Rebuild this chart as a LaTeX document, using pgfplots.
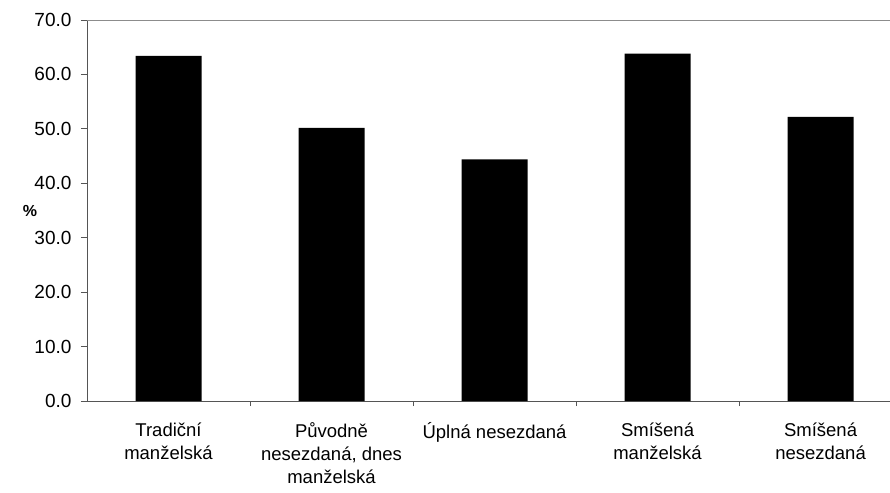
\documentclass[border=0pt]{standalone}
\usepackage{fontspec}
\setmainfont{Liberation Sans}
\usepackage{pgfplots}
\pgfplotsset{compat=1.18}
\definecolor{axisgray}{HTML}{555555}
\definecolor{topgray}{HTML}{8C8C8C}
\begin{document}
\begin{tikzpicture}
\begin{axis}[
    at={(0,0)}, anchor=south west,
    scale only axis,
    width=803bp, height=381bp,
    xmin=-0.5, xmax=4.426,
    ymin=0, ymax=70,
    ytick={0,10,...,70},
    xtick={0,1,2,3,4},
    xticklabels={Tradiční\\manželská, {Původně\\nesezdaná, dnes\\manželská}, Úplná nesezdaná, Smíšená\\manželská, Smíšená\\nesezdaná},
    minor xtick={0.5,1.5,2.5,3.5},
    major x tick style={draw=none},
    minor x tick style={axisgray, thick},
    y tick style={axisgray, thick},
    minor tick length=5bp,
    major tick length=6bp,
    tick align=outside,
    axis x line*=bottom,
    axis y line*=left,
    axis line style={axisgray, thick, -},
    /pgf/number format/assume math mode=true,
    yticklabel style={/pgf/number format/.cd, fixed, fixed zerofill, precision=1, /tikz/.cd,
        font=\fontsize{19bp}{23bp}\selectfont, xshift=-6bp},
    xticklabel style={font=\fontsize{18.5bp}{23bp}\selectfont, align=center, yshift=-12bp},
    ylabel={\%},
    ylabel style={rotate=-90, at={(axis description cs:-0.071,0.5)}, anchor=center,
        font=\bfseries\fontsize{16bp}{20bp}\selectfont},
    ybar,
    bar width=66bp,
    clip=false,
    ]
\addplot[fill=black, draw=none] coordinates {
    (0,63.4) (1,50.2) (2,44.4) (3,63.8) (4,52.2)};
\draw[topgray, thick] (rel axis cs:0,1) -- (rel axis cs:1,1);
\end{axis}
\pgfresetboundingbox
\path[use as bounding box] (-87bp,-92bp) rectangle (803bp,401bp);
\end{tikzpicture}
\end{document}
